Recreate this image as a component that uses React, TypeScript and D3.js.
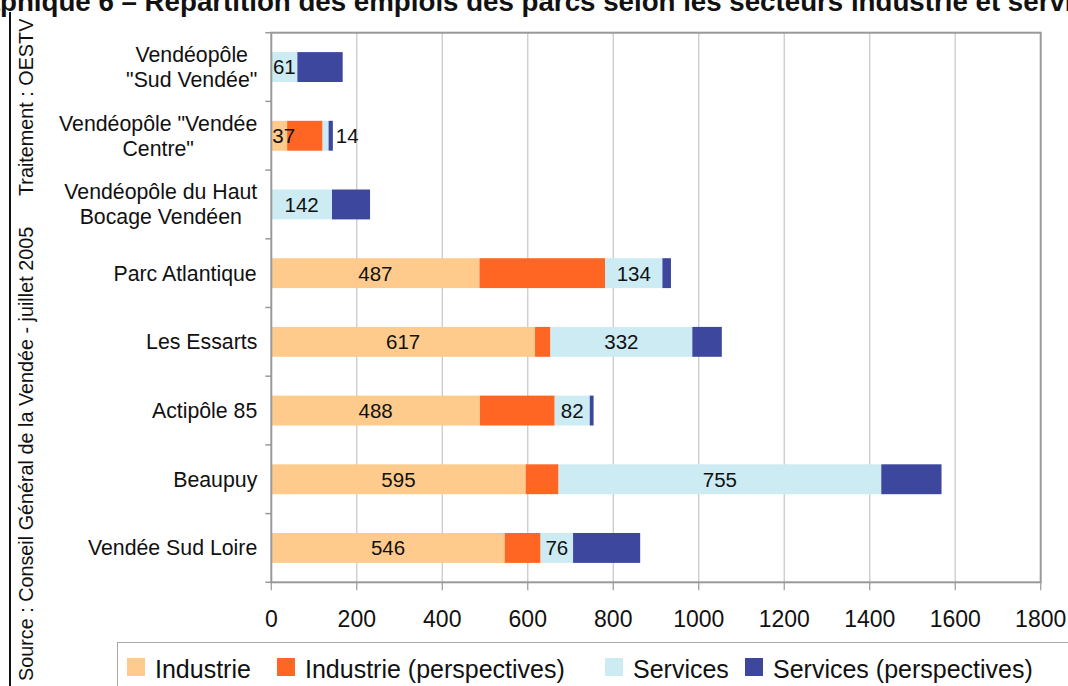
import React from 'react';
import * as d3 from 'd3';

// Parcs d'activités (top to bottom) and the lines used for their axis labels
const categories = [
  'Vendéopôle "Sud Vendée"',
  'Vendéopôle "Vendée Centre"',
  'Vendéopôle du Haut Bocage Vendéen',
  'Parc Atlantique',
  'Les Essarts',
  'Actipôle 85',
  'Beaupuy',
  'Vendée Sud Loire',
];
const categoryLines = [
  ['Vendéopôle', '"Sud Vendée"'],
  ['Vendéopôle "Vendée', 'Centre"'],
  ['Vendéopôle du Haut', 'Bocage Vendéen'],
  ['Parc Atlantique'],
  ['Les Essarts'],
  ['Actipôle 85'],
  ['Beaupuy'],
  ['Vendée Sud Loire'],
];

// Emplois par secteur
const industrie = [0, 37, 0, 487, 617, 488, 595, 546];
const industriePerspectives = [0, 83, 0, 294, 36, 175, 77, 84];
const services = [61, 14, 142, 134, 332, 82, 755, 76];
const servicesPerspectives = [106, 10, 89, 20, 69, 9, 141, 157];

const seriesKeys = ['industrie', 'industriePerspectives', 'services', 'servicesPerspectives'];
const seriesNames = ['Industrie', 'Industrie (perspectives)', 'Services', 'Services (perspectives)'];
const seriesColors = ['#FFCB8C', '#FF6624', '#CCEBF2', '#3C479D'];
const labelledSeries = ['industrie', 'services'];

const xTicks = [0, 200, 400, 600, 800, 1000, 1200, 1400, 1600, 1800];

const titleText = 'Graphique 6 – Répartition des emplois des parcs selon les secteurs industrie et services';
const sourceText = 'Source : Conseil Général de la Vendée - juillet 2005';
const creditText = 'Traitement : OESTV';

const FONT = "'Liberation Sans', Arial, sans-serif";

let measureCtx: CanvasRenderingContext2D | null = null;
function textWidth(text: string, size: number, weight = 'normal') {
  if (!measureCtx) measureCtx = document.createElement('canvas').getContext('2d');
  if (!measureCtx) return text.length * size * 0.5;
  measureCtx.font = `${weight} ${size}px ${FONT}`;
  return measureCtx.measureText(text).width;
}

export default function App() {
  const W = 1068;
  const H = 686;
  const plot = { left: 271.3, right: 1040.7, top: 32.7, bottom: 582.3 };

  const x = d3.scaleLinear().domain([0, 1800]).range([plot.left, plot.right]);
  const y = d3
    .scaleBand<string>()
    .domain(categories)
    .range([plot.top, plot.bottom])
    .paddingInner(0.565)
    .paddingOuter(0.2825);

  const rows = categories.map((c, i) => ({
    cat: c,
    industrie: industrie[i],
    industriePerspectives: industriePerspectives[i],
    services: services[i],
    servicesPerspectives: servicesPerspectives[i],
  }));
  const stacked = d3.stack<any>().keys(seriesKeys)(rows);
  const totals = rows.map((r) => seriesKeys.reduce((s, k) => s + (r as any)[k], 0));

  const step = y.step();
  const bandBoundaries = d3.range(categories.length + 1).map((i) => plot.top + i * step);

  const catFont = 21.3;
  const valFont = 20.5;
  const tickFont = 23;
  const legendFont = 25;
  const titleFont = 27.7;

  // the title runs wider than the page; its first letters sit left of x = 0
  const titlePrefix = 'Gra';

  // legend layout: swatch then text
  const legendTextX = [155, 305, 633, 773];

  return (
    <svg
      width={W}
      height={H}
      style={{ position: 'absolute', left: 0, top: 0, display: 'block', background: '#fff' }}
      fontFamily={FONT}
    >
      <rect x={0} y={0} width={W} height={H} fill="#fff" />

      {/* Title */}
      <text x={0} y={11} fontSize={titleFont} fontWeight="bold" fill="#111" textAnchor="end">
        {titlePrefix}
      </text>
      <text x={0} y={11} fontSize={titleFont} fontWeight="bold" fill="#111">
        {titleText.slice(titlePrefix.length)}
      </text>

      {/* Frame rule on the left */}
      <line x1={10} x2={10} y1={12} y2={H} stroke="#111" strokeWidth={2} />

      {/* Vertical source lines */}
      <text transform={`translate(33,681) rotate(-90)`} fontSize={19.8} fill="#111">
        {sourceText}
      </text>
      <text transform={`translate(33,196) rotate(-90)`} fontSize={19.8} fill="#111">
        {creditText}
      </text>

      {/* Plot background and vertical grid */}
      <rect
        x={plot.left}
        y={plot.top}
        width={plot.right - plot.left}
        height={plot.bottom - plot.top}
        fill="#fff"
      />
      {xTicks.slice(1, -1).map((t) => (
        <line
          key={`g${t}`}
          x1={x(t)}
          x2={x(t)}
          y1={plot.top}
          y2={plot.bottom}
          stroke="#c6c6c6"
          strokeWidth={1.2}
        />
      ))}

      {/* Stacked bars */}
      {stacked.map((layer, si) => (
        <g key={layer.key} fill={seriesColors[si]}>
          {layer.map((d, i) => {
            const w = x(d[1]) - x(d[0]);
            if (w <= 0) return null;
            return (
              <rect
                key={i}
                x={x(d[0])}
                y={y(categories[i])}
                width={w}
                height={y.bandwidth()}
              />
            );
          })}
        </g>
      ))}

      {/* Value labels on Industrie and Services */}
      {stacked
        .filter((layer) => labelledSeries.includes(layer.key))
        .map((layer) =>
          layer.map((d, i) => {
            const v = d[1] - d[0];
            if (v <= 0) return null;
            const label = String(v);
            const lw = textWidth(label, valFont);
            const x0 = x(d[0]);
            const x1 = x(d[1]);
            const cy = (y(categories[i]) as number) + y.bandwidth() / 2 + valFont * 0.36;
            let cx = (x0 + x1) / 2;
            if (lw > x1 - x0) {
              if (d[0] === 0) cx = Math.max(cx, x0 + 1 + lw / 2);
              else cx = x(totals[i]) + 3 + lw / 2;
            }
            return (
              <text
                key={`${layer.key}${i}`}
                x={cx}
                y={cy}
                fontSize={valFont}
                textAnchor="middle"
                fill="#111"
              >
                {label}
              </text>
            );
          })
        )}

      {/* Plot frame */}
      <rect
        x={plot.left}
        y={plot.top}
        width={plot.right - plot.left}
        height={plot.bottom - plot.top}
        fill="none"
        stroke="#999"
        strokeWidth={2}
      />

      {/* Category axis ticks and labels */}
      {bandBoundaries.map((b, i) => (
        <line key={`yt${i}`} x1={plot.left - 6} x2={plot.left} y1={b} y2={b} stroke="#999" strokeWidth={1.5} />
      ))}
      {categories.map((c, i) => {
        const lines = categoryLines[i];
        const widths = lines.map((l) => textWidth(l, catFont));
        const maxW = Math.max(...widths);
        const right = plot.left - 14;
        const center = right - maxW / 2;
        const cy = (y(c) as number) + y.bandwidth() / 2;
        const lh = 25;
        return (
          <text key={c} fontSize={catFont} fill="#111" textAnchor="middle">
            {lines.map((l, li) => (
              <tspan
                key={li}
                x={center}
                y={cy + (li - (lines.length - 1) / 2) * lh + catFont * 0.35}
              >
                {l}
              </tspan>
            ))}
          </text>
        );
      })}

      {/* Value axis ticks and labels */}
      {xTicks.map((t) => (
        <g key={`xt${t}`}>
          <line x1={x(t)} x2={x(t)} y1={plot.bottom} y2={plot.bottom + 8} stroke="#999" strokeWidth={1.2} />
          <text x={x(t)} y={627} fontSize={tickFont} textAnchor="middle" fill="#111">
            {t}
          </text>
        </g>
      ))}

      {/* Legend */}
      <rect x={117.5} y={642.5} width={1000} height={100} fill="#fff" stroke="#a8a8a8" strokeWidth={1} />
      {seriesNames.map((n, i) => (
        <g key={n}>
          <rect x={legendTextX[i] - 28} y={658} width={18} height={18} fill={seriesColors[i]} />
          <text x={legendTextX[i]} y={677.5} fontSize={legendFont} fill="#111">
            {n}
          </text>
        </g>
      ))}
    </svg>
  );
}
